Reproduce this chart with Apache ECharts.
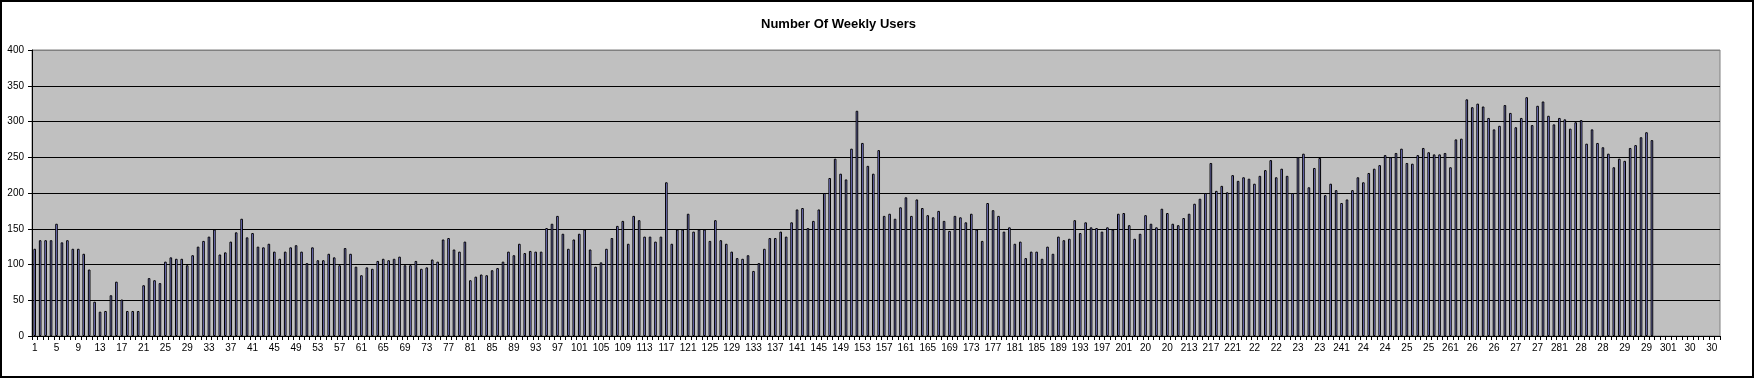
<!DOCTYPE html>
<html>
<head>
<meta charset="utf-8">
<script src="https://cdn.jsdelivr.net/npm/echarts@6/dist/echarts.min.js"></script>
<style>
html,body{margin:0;padding:0;background:#fff;}
#chart{width:1756px;height:379px;}
</style>
</head>
<body>
<div id="chart"></div>
<script>
// ---- data ----
const chartTitle = 'Number Of Weekly Users';
const categoryCount = 310;
const categories = Array.from({length: categoryCount}, (_, i) => String(i + 1));

// x-axis tick labels as shown (every 4th category)
const tickLabels = [
  '1','5','9','13','17','21','25','29','33','37','41','45','49','53','57','61','65','69','73','77',
  '81','85','89','93','97','101','105','109','113','117','121','125','129','133','137','141','145','149','153','157',
  '161','165','169','173','177','181','185','189','193','197','201','20','20','213','217','221','22','22','23','23',
  '241','24','24','25','25','261','26','26','27','27','281','28','28','29','29','301','30','30'
];

const yTicks = [0, 50, 100, 150, 200, 250, 300, 350, 400];

// weekly users per week (weeks 1..298)
const weeklyUsers = [
  122,134,134,134,157,131,134,122,122,115,
  93,48,34,35,57,76,51,35,35,35,
  71,81,78,74,104,110,108,108,99,113,
  125,133,139,149,114,117,132,145,164,138,
  144,125,124,129,118,108,118,124,127,118,
  102,124,106,106,115,110,99,123,115,97,
  85,96,94,105,108,106,108,111,99,99,
  105,94,96,107,104,135,137,121,118,132,
  78,83,86,85,92,95,104,118,113,129,
  116,119,118,118,151,157,168,143,122,135,
  143,149,121,97,103,122,137,154,161,129,
  168,162,139,139,132,139,215,129,149,149,
  171,146,149,149,133,162,134,129,118,109,
  108,113,91,102,122,137,137,146,139,159,
  177,179,151,161,177,200,221,248,227,219,
  262,315,270,238,227,260,168,171,164,180,
  194,168,191,179,169,166,175,161,147,168,
  166,159,171,149,133,186,176,168,146,152,
  129,132,109,118,118,108,125,115,139,134,
  136,162,144,159,152,151,146,152,149,171,
  172,155,136,143,169,157,152,178,172,157,
  155,165,171,185,192,200,242,203,210,201,
  225,217,222,220,213,224,232,246,222,234,
  224,200,250,255,208,235,249,197,213,204,
  186,191,204,222,215,228,234,239,253,250,
  256,262,242,241,253,263,257,254,254,256,
  236,275,276,331,320,325,321,305,289,294,
  323,312,292,305,334,295,322,328,308,296,
  305,303,290,299,302,269,289,270,264,255,
  236,248,245,263,267,278,285,274
];

// ---- chart ----
const chart = echarts.init(document.getElementById('chart'), null, {renderer: 'canvas'});
const font = 'Liberation Sans, Arial, sans-serif';
const splitColors = yTicks.map((v, i) => i === yTicks.length - 1 ? '#808080' : '#000000');

chart.setOption({
  animation: false,
  backgroundColor: '#ffffff',
  title: {
    text: chartTitle,
    left: 756,
    top: 13,
    textStyle: {fontFamily: font, fontSize: 13, fontWeight: 'bold', color: '#000'}
  },
  graphic: [{
    type: 'rect',
    silent: true,
    shape: {x: 1, y: 1, width: 1752, height: 376},
    style: {fill: 'none', stroke: '#000', lineWidth: 2}
  }],
  grid: {
    left: 32, right: 36, top: 50, bottom: 43,
    show: true, backgroundColor: '#C0C0C0', borderColor: '#808080', borderWidth: 1
  },
  xAxis: {
    type: 'category',
    data: categories,
    boundaryGap: true,
    axisLine: {show: true, lineStyle: {color: '#000', width: 1}},
    axisTick: {show: true, interval: 0, length: 4, inside: false, lineStyle: {color: '#000'}},
    axisLabel: {
      interval: 3,
      margin: 7,
      fontSize: 10,
      fontFamily: font,
      color: '#000',
      formatter: (v, i) => (i % 4 === 0 && tickLabels[i / 4] !== undefined) ? tickLabels[i / 4] : ''
    },
    splitLine: {show: false}
  },
  yAxis: {
    type: 'value',
    min: yTicks[0],
    max: yTicks[yTicks.length - 1],
    interval: 50,
    axisLine: {show: true, lineStyle: {color: '#000', width: 1}},
    axisTick: {show: true, length: 4, lineStyle: {color: '#000'}},
    axisLabel: {fontSize: 10, fontFamily: font, color: '#000', margin: 8},
    splitLine: {show: true, lineStyle: {color: splitColors, width: 1}}
  },
  series: [{
    type: 'bar',
    data: weeklyUsers,
    barWidth: 2.6,
    itemStyle: {color: '#9999FF', borderColor: '#000', borderWidth: 1}
  }]
});
</script>
</body>
</html>
